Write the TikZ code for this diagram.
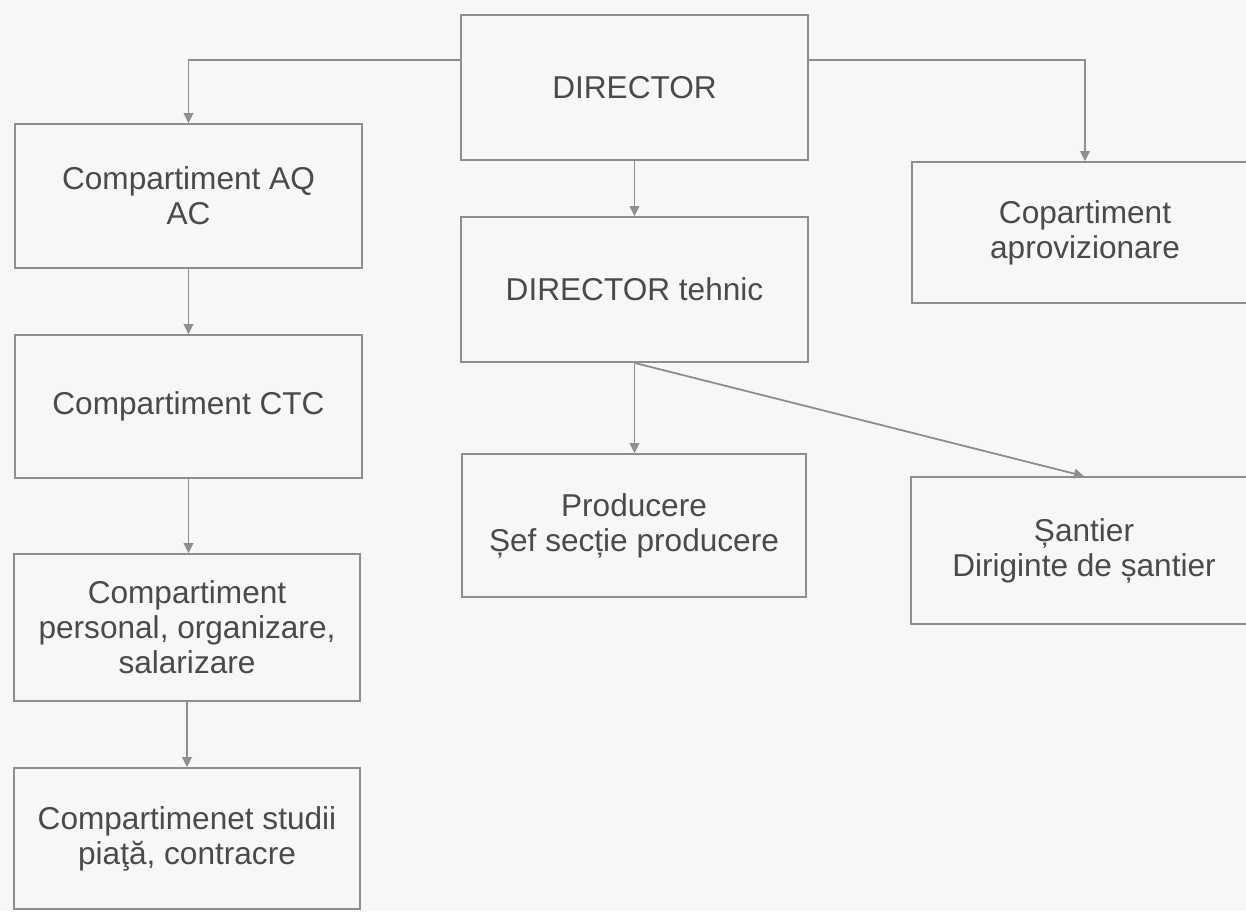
\documentclass[tikz,border=0pt]{standalone}
\usepackage{fontspec}
\setmainfont{Liberation Sans}
\usetikzlibrary{arrows.meta,calc}
\definecolor{bg}{HTML}{F7F7F6}
\definecolor{linec}{HTML}{8E8E8E}
\definecolor{txt}{HTML}{4A4A4A}
\begin{document}
\begin{tikzpicture}[x=0.5pt,y=-0.5pt,
  box/.style={draw=linec,line width=0.9pt,text=txt,align=center,inner sep=0pt,
    font=\fontsize{15.8}{17.5}\selectfont},
  arr/.style={draw=linec,line width=0.9pt,-{Triangle[length=5pt,width=4.8pt]}}]
\fill[bg] (0,0) rectangle (1246,911);
\useasboundingbox (0,0) rectangle (1246,911);
\clip (0,0) rectangle (1246,911);
\node[box,minimum width=173.5pt,minimum height=72.5pt] (dir) at (634.5,87.5) {DIRECTOR};
\node[box,minimum width=173.5pt,minimum height=72pt] (aq) at (188.5,196) {Compartiment AQ\\AC};
\node[box,minimum width=173.5pt,minimum height=72.5pt] (tehnic) at (634.5,289.5) {DIRECTOR tehnic};
\node[box,minimum width=173pt,minimum height=70.5pt] (aprov) at (1085,232.5) {Copartiment\\aprovizionare};
\node[box,minimum width=173.5pt,minimum height=71.5pt] (ctc) at (188.5,406.5) {Compartiment CTC};
\node[box,minimum width=173pt,minimum height=73.5pt] (pers) at (187,627.5) {Compartiment\\personal, organizare,\\salarizare};
\node[box,minimum width=173pt,minimum height=70.5pt] (stud) at (187,838.5) {Compartimenet studii\\piaţă, contracre};
\node[box,minimum width=172pt,minimum height=71.5pt] (prod) at (634,525.5) {Producere\\Șef secție producere};
\node[box,minimum width=173pt,minimum height=73.5pt] (sant) at (1084,550.5) {Șantier\\Diriginte de șantier};
\coordinate (dl) at ($(dir.north west)!0.31!(dir.south west)$);
\coordinate (dr) at ($(dir.north east)!0.31!(dir.south east)$);
\draw[arr] (dl) -| (aq.north);
\draw[arr] (dr) -| (aprov.north);
\draw[arr] (dir.south) -- (tehnic.north);
\draw[arr] (aq.south) -- (ctc.north);
\draw[arr] (ctc.south) -- (ctc.south |- pers.north);
\draw[arr] (pers.south) -- (stud.north);
\draw[arr] (tehnic.south) -- (tehnic.south |- prod.north);
\draw[arr] (tehnic.south) -- (sant.north);
\end{tikzpicture}
\end{document}
